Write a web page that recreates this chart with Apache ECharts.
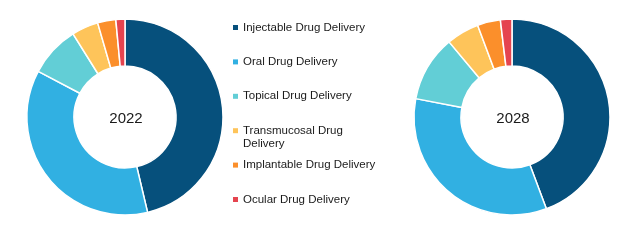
<!DOCTYPE html>
<html><head><meta charset="utf-8">
<script src="https://cdn.jsdelivr.net/npm/echarts@6/dist/echarts.min.js"></script>
<style>html,body{margin:0;padding:0;background:#fff}#c{width:633px;height:240px}</style>
</head><body><div id="c"></div>
<script>
const categories = ['Injectable Drug Delivery','Oral Drug Delivery','Topical Drug Delivery','Transmucosal Drug Delivery','Implantable Drug Delivery','Ocular Drug Delivery'];
const legendLabels = ['Injectable Drug Delivery','Oral Drug Delivery','Topical Drug Delivery','\nTransmucosal Drug\nDelivery','Implantable Drug Delivery','Ocular Drug Delivery'];
const years = ['2022','2028'];
const values2022 = [46.3, 36.4, 8.4, 4.4, 3.0, 1.5];
const values2028 = [44.3, 33.7, 10.9, 5.4, 3.8, 1.9];
const colors = ['#06507c','#31b0e2','#62ced6','#fec45a','#fb8f2b','#e5444f'];

const chart = echarts.init(document.getElementById('c'));
const font = '"Liberation Sans", Arial, sans-serif';
const legends = categories.map((name, i) => ({
  data: [name],
  orient: 'vertical',
  left: 233,
  top: 27.5 + i * 34.4 - (i === 3 ? 19.5 : 6.5),
  padding: 0,
  itemWidth: 5, itemHeight: 5, itemGap: 0,
  icon: 'rect',
  itemStyle: { borderWidth: 0 },
  selectedMode: false,
  formatter: () => legendLabels[i],
  textStyle: { fontFamily: font, fontSize: 11.5, color: '#1a1a1a', lineHeight: 13 }
}));
function pie(vals, cx) {
  return {
    type: 'pie', center: [cx, 117], radius: [51, 98], startAngle: 90, clockwise: true,
    silent: true, animation: false,
    label: { show: false }, labelLine: { show: false },
    itemStyle: { borderColor: '#fff', borderWidth: 1.5 },
    data: categories.map((n, i) => ({ name: n, value: vals[i], itemStyle: { color: colors[i] } }))
  };
}
function yearText(t, x) {
  return { type: 'text', position: [x, 119], style: { text: t, x: 0, y: 0, align: 'center', verticalAlign: 'middle', fontFamily: font, fontSize: 15, fill: '#1a1a1a' } };
}
chart.setOption({
  animation: false,
  color: colors,
  legend: legends,
  series: [pie(values2022, 125), pie(values2028, 512)],
  graphic: [yearText(years[0], 126), yearText(years[1], 513)]
});
</script></body></html>
